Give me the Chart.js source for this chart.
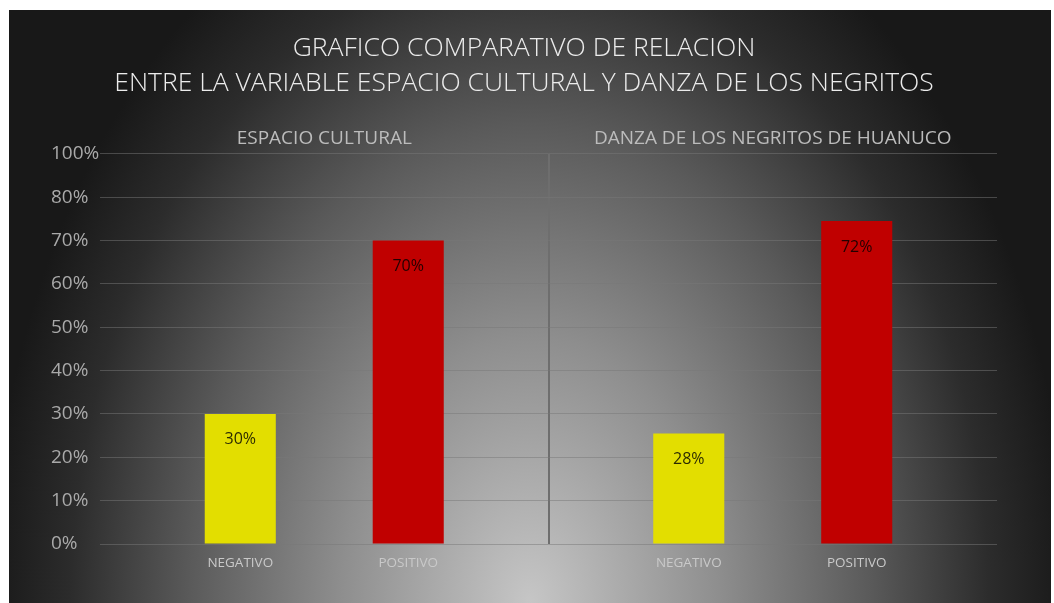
<!DOCTYPE html>
<html>
<head>
<meta charset="utf-8">
<script src="https://cdn.jsdelivr.net/npm/chart.js@4.4.0/dist/chart.umd.min.js"></script>
<style>
body{margin:0;background:#fff;}
#marco{position:absolute;left:9px;top:10px;width:1042px;height:593px;
background:radial-gradient(ellipse 540px 760px at 50% 100%, #c6c6c6 0%, #8e8e8e 35%, #5a5a5a 63%, #2c2c2c 85%, #181818 100%);}
</style>
</head>
<body>
<div id="marco"><canvas id="grafico"></canvas></div>
<script>
/* DATOS */
const titulo = ['GRAFICO COMPARATIVO DE RELACION', 'ENTRE LA VARIABLE ESPACIO CULTURAL Y DANZA DE LOS NEGRITOS'];
const grupos = ['ESPACIO CULTURAL', 'DANZA DE LOS NEGRITOS DE HUANUCO'];
const series = ['NEGATIVO', 'POSITIVO'];
const negativo = [30, 25.5];
const positivo = [70, 74.5];
const etiquetasNegativo = ['30%', '28%'];
const etiquetasPositivo = ['70%', '72%'];
const ticksY = ['0%', '10%', '20%', '30%', '40%', '50%', '60%', '70%', '80%', '100%'];

const fuente = "'Open Sans', sans-serif";

/* etiquetas de las barras y nombres debajo */
const etiquetasPlugin = {
  id: 'etiquetas',
  afterDatasetsDraw(chart) {
    const c = chart.ctx;
    const textos = [etiquetasNegativo, etiquetasPositivo];
    chart.data.datasets.forEach((ds, i) => {
      chart.getDatasetMeta(i).data.forEach((barra, j) => {
        c.save();
        c.textAlign = 'center';
        c.textBaseline = 'middle';
        c.font = '16px ' + fuente;
        c.fillStyle = 'rgba(0,0,0,0.82)';
        c.fillText(textos[i][j], barra.x, barra.y + 26);
        c.font = '13.5px ' + fuente;
        c.fillStyle = '#c9c9c9';
        c.fillText(ds.label, barra.x, chart.chartArea.bottom + 19);
        c.restore();
      });
    });
  }
};

const ctx = document.getElementById('grafico').getContext('2d');

const miGrafico = new Chart(ctx, {
  type: 'bar',
  data: {
    labels: grupos,
    datasets: [{
      label: series[0],
      data: negativo,
      backgroundColor: '#e3de00',
      barPercentage: 0.423,
      categoryPercentage: 0.749
    }, {
      label: series[1],
      data: positivo,
      backgroundColor: '#c00000',
      barPercentage: 0.423,
      categoryPercentage: 0.749
    }]
  },
  options: {
    responsive: true,
    maintainAspectRatio: false,
    animation: false,
    layout: {
      padding: { left: 42, right: 54, top: 0, bottom: 59 }
    },
    scales: {
      x: {
        position: 'top',
        grid: {
          offset: true,
          drawTicks: false,
          lineWidth: 2,
          color: (c) => c.index === 1 ? '#6e6e6e' : 'rgba(0,0,0,0)'
        },
        border: { display: false },
        ticks: {
          color: '#bcbcbc',
          padding: 4,
          font: { family: fuente, size: 19 }
        }
      },
      y: {
        min: 0,
        max: 90,
        afterFit: (escala) => { escala.width = 49; },
        grid: {
          color: 'rgba(119,119,119,0.5)',
          drawTicks: false
        },
        border: { display: false },
        ticks: {
          stepSize: 10,
          crossAlign: 'far',
          color: '#a9a9a9',
          font: { family: fuente, size: 19 },
          callback: (v, i) => ticksY[i]
        }
      }
    },
    plugins: {
      legend: { display: false },
      tooltip: { enabled: false },
      title: {
        display: true,
        text: titulo,
        color: '#ececec',
        font: { family: fuente, size: 26.5, weight: '300', lineHeight: 1.32 },
        padding: { top: 21, bottom: 22 }
      }
    }
  },
  plugins: [etiquetasPlugin]
});
</script>
</body>
</html>
